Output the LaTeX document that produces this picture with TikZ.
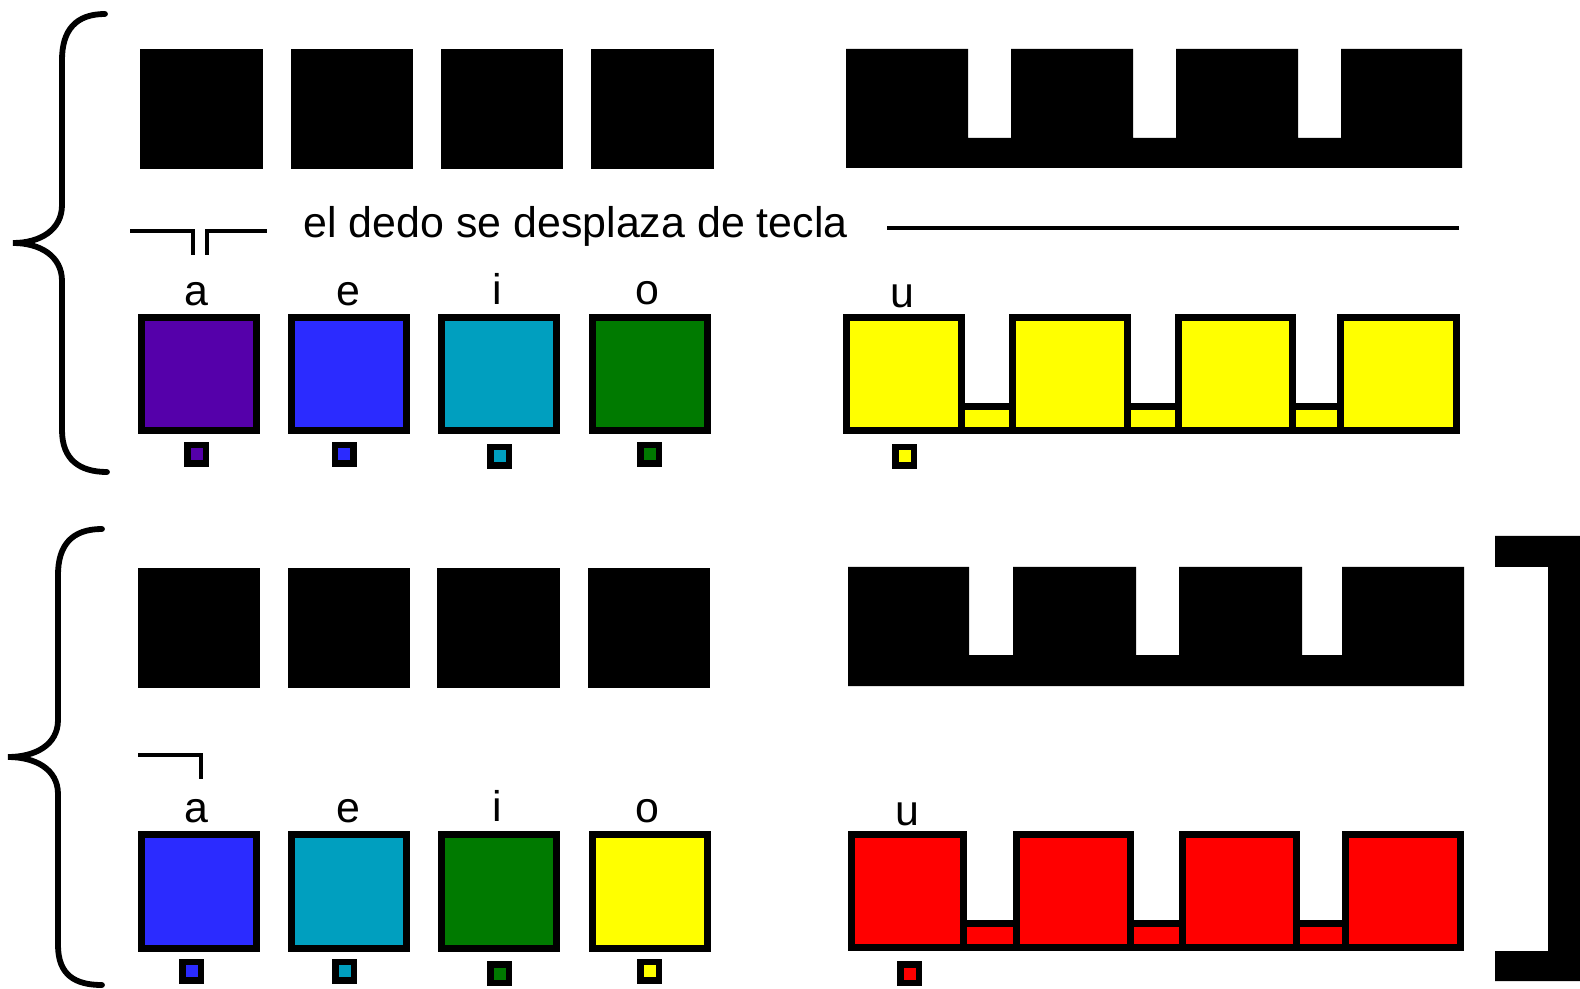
\documentclass[tikz,border=0pt]{standalone}
\usepackage{fontspec}
\setmainfont{Liberation Sans}
\usepackage{tikz}
\usetikzlibrary{positioning}
\definecolor{vowelA}{HTML}{5500AA}
\definecolor{vowelE}{HTML}{2B2BFF}
\definecolor{vowelI}{HTML}{009FBF}
\definecolor{vowelO}{HTML}{007A00}
\definecolor{vowelU}{HTML}{FFFF00}
\definecolor{vowelX}{HTML}{FF0000}

\begin{document}
\begin{tikzpicture}[x=0.01cm, y=-0.01cm,
  blackkey/.style={rectangle, fill=black, minimum width=1.22cm, minimum height=1.19cm, inner sep=0pt},
  key/.style={rectangle, draw=black, line width=0.07cm, minimum width=1.15cm,
              minimum height=1.13cm, inner sep=0pt},
  swatch/.style={rectangle, draw=black, line width=0.065cm, minimum size=0.185cm, inner sep=0pt},
  vowel/.style={font=\fontsize{12.2}{14}\selectfont, anchor=base, inner sep=0pt},
  brace/.style={line width=0.058cm, line cap=round},
  guide/.style={line width=0.042cm},
  comb/.style={draw=black, line width=0.07cm},
]
\useasboundingbox (0,0) rectangle (1580,989);

% braces on the left
\draw[brace] (105,14) .. controls (76,14) and (62,30) .. (62,60) -- (62,205)
  .. controls (62,230) and (40,243) .. (13,243) .. controls (40,243) and (62,256) .. (62,281)
  -- (62,430) .. controls (62,460) and (80,472) .. (107,472);
\draw[brace] (102,529) .. controls (72,529) and (58,545) .. (58,575) -- (58,720)
  .. controls (58,745) and (35,757) .. (8,757) .. controls (35,757) and (58,769) .. (58,794)
  -- (58,945) .. controls (58,975) and (75,985) .. (102,985);

% bracket on the right
\fill (1495,536) -- (1580,536) -- (1580,981) -- (1495,981) -- (1495,951) -- (1548,951)
  -- (1548,567) -- (1495,567) -- cycle;

% upper group: black keys
\node[blackkey] (ka1) at (201.5,109) {};
\node[blackkey] (ke1) at (352,109)   {};
\node[blackkey] (ki1) at (502,109)   {};
\node[blackkey] (ko1) at (652.5,109) {};
\fill (846,49) -- (968,49) -- (968,138) -- (1011,138) -- (1011,49) -- (1133,49) -- (1133,138)
  -- (1176,138) -- (1176,49) -- (1298,49) -- (1298,138) -- (1341,138) -- (1341,49)
  -- (1462,49) -- (1462,168) -- (846,168) -- cycle;

% upper group: guide lines and text
\draw[guide] (130,231) -- (193,231) -- (193,255);
\draw[guide] (207,255) -- (207,231) -- (267,231);
\node[font=\fontsize{12.2}{14}\selectfont, anchor=base west, inner sep=0pt] (slide) at (303,238)
  {el dedo se desplaza de tecla};
\draw[guide] (887,228) -- (1459,228);

% upper group: labels, colour keys, swatches
\node[vowel] (la1) at (196,306) {a};
\node[vowel] (le1) at (348,306) {e};
\node[vowel] (li1) at (497,305) {i};
\node[vowel] (lo1) at (647,305) {o};
\node[vowel] (lu1) at (902,308) {u};
\node[key, fill=vowelA] (ca1) at (199,374) {};
\node[key, fill=vowelE] (ce1) at (349,374) {};
\node[key, fill=vowelI] (ci1) at (499,374) {};
\node[key, fill=vowelO] (co1) at (650,374) {};
\foreach \a/\b in {961.5/1012.5, 1127.5/1178.5, 1292.5/1340.5}
  \draw[comb, fill=vowelU] (\a,406.5) rectangle (\b,430.5);
\foreach \a/\b in {846.5/961.5, 1012.5/1127.5, 1178.5/1292.5, 1340.5/1456.5}
  \draw[comb, fill=vowelU] (\a,317.5) rectangle (\b,430.5);
\node[swatch, fill=vowelA] (sa1) at (196.5,454.5) {};
\node[swatch, fill=vowelE] (se1) at (344,454.5)   {};
\node[swatch, fill=vowelI] (si1) at (499.5,456.5) {};
\node[swatch, fill=vowelO] (so1) at (649.5,454.5) {};
\node[swatch, fill=vowelU] (su1) at (904.5,456.5) {};

% lower group: black keys
\node[blackkey] (ka2) at (199,628)   {};
\node[blackkey] (ke2) at (349,628)   {};
\node[blackkey] (ki2) at (498.5,628) {};
\node[blackkey] (ko2) at (649,628)   {};
\fill (848,567) -- (969,567) -- (969,655) -- (1013,655) -- (1013,567) -- (1136,567) -- (1136,655)
  -- (1179,655) -- (1179,567) -- (1302,567) -- (1302,655) -- (1342,655) -- (1342,567)
  -- (1464,567) -- (1464,686) -- (848,686) -- cycle;

% lower group: guide line
\draw[guide] (138,755) -- (201,755) -- (201,779);

% lower group: labels, colour keys, swatches
\node[vowel] (la2) at (196,822) {a};
\node[vowel] (le2) at (348,822) {e};
\node[vowel] (li2) at (497,821) {i};
\node[vowel] (lo2) at (647,822) {o};
\node[vowel] (lu2) at (907,825) {u};
\node[key, fill=vowelE] (ca2) at (199,891.5) {};
\node[key, fill=vowelI] (ce2) at (349,891.5) {};
\node[key, fill=vowelO] (ci2) at (499,891.5) {};
\node[key, fill=vowelU] (co2) at (650,891.5) {};
\foreach \a/\b in {963.5/1016.5, 1130.5/1182.5, 1296.5/1345.5}
  \draw[comb, fill=vowelX] (\a,923.5) rectangle (\b,947.5);
\foreach \a/\b in {851.5/963.5, 1016.5/1130.5, 1182.5/1296.5, 1345.5/1460.5}
  \draw[comb, fill=vowelX] (\a,834.5) rectangle (\b,947.5);
\node[swatch, fill=vowelE] (sa2) at (191.5,971)   {};
\node[swatch, fill=vowelI] (se2) at (344.5,971)   {};
\node[swatch, fill=vowelO] (si2) at (499.5,973.5) {};
\node[swatch, fill=vowelU] (so2) at (649.5,971)   {};
\node[swatch, fill=vowelX] (su2) at (909.5,973.5) {};
\end{tikzpicture}
\end{document}
